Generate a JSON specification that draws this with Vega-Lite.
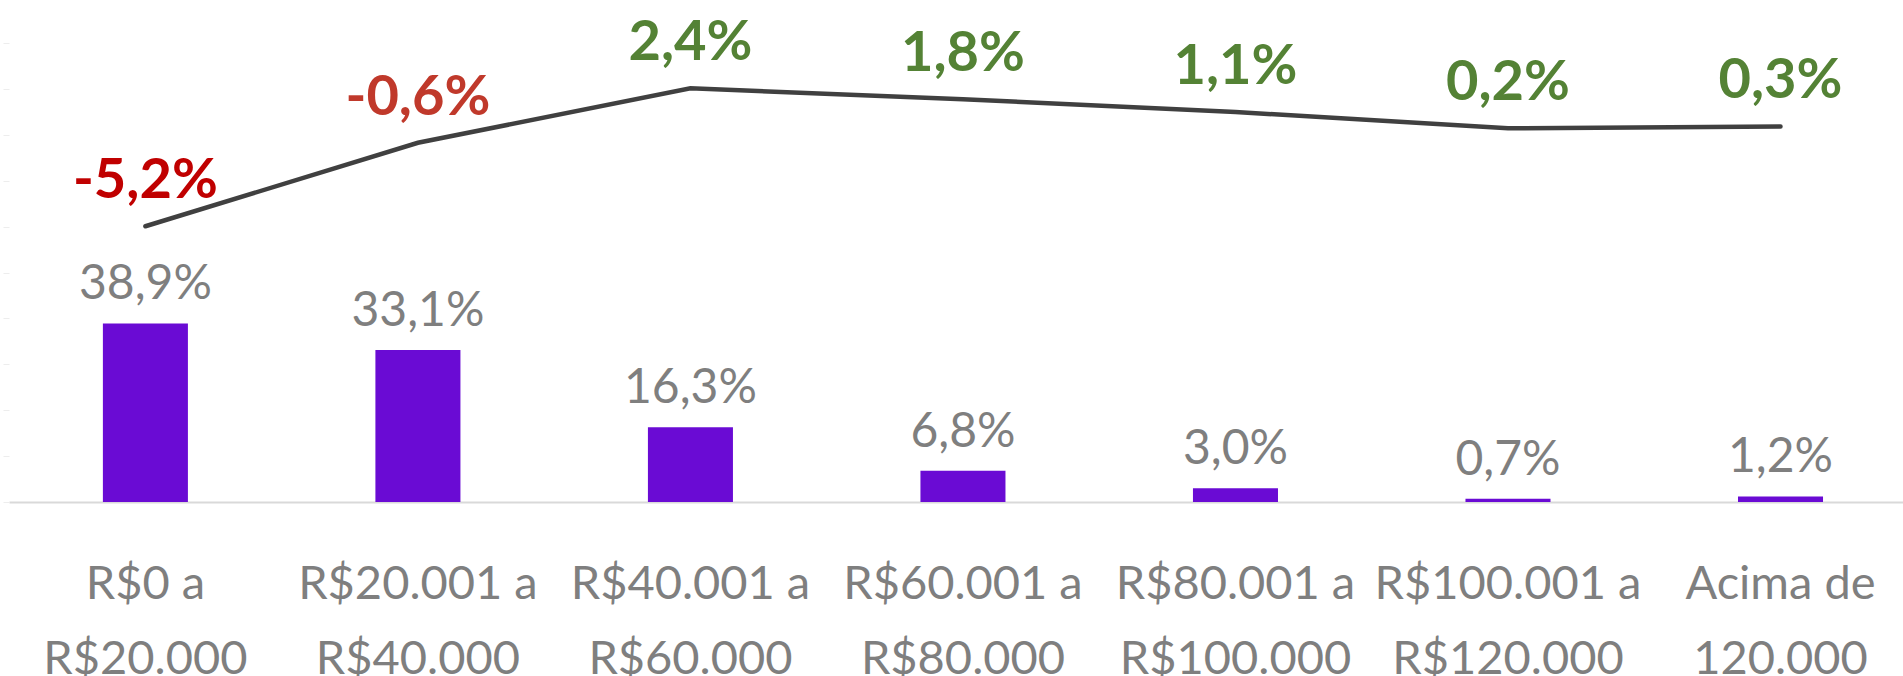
{
  "$schema": "https://vega.github.io/schema/vega-lite/v6.json",
  "width": 1894,
  "height": 459,
  "autosize": {"type": "none"},
  "padding": {"left": 9, "top": 43, "right": 0, "bottom": 174},
  "background": "white",
  "config": {
    "view": {"stroke": null},
    "locale": {"number": {"decimal": ",", "thousands": ".", "grouping": [3], "currency": ["R$", ""], "minus": "-"}}
  },
  "data": {
    "values": [
      {"faixa": "R$0 a R$20.000", "participacao": 0.389, "variacao": -0.052},
      {"faixa": "R$20.001 a R$40.000", "participacao": 0.331, "variacao": -0.006},
      {"faixa": "R$40.001 a R$60.000", "participacao": 0.163, "variacao": 0.024},
      {"faixa": "R$60.001 a R$80.000", "participacao": 0.068, "variacao": 0.018},
      {"faixa": "R$80.001 a R$100.000", "participacao": 0.030, "variacao": 0.011},
      {"faixa": "R$100.001 a R$120.000", "participacao": 0.007, "variacao": 0.002},
      {"faixa": "Acima de 120.000", "participacao": 0.012, "variacao": 0.003}
    ]
  },
  "encoding": {
    "x": {
      "field": "faixa",
      "type": "nominal",
      "sort": null,
      "scale": {"paddingInner": 0.688, "paddingOuter": 0.319, "align": 0.54, "round": false},
      "axis": {
        "title": null,
        "labelAngle": 0,
        "labelExpr": "split(replace(replace(datum.value, ' a R', ' a|R'), 'de 1', 'de|1'), '|')",
        "labelFont": "Lato",
        "labelFontSize": 47,
        "labelColor": "#7f7f7f",
        "labelLineHeight": 75,
        "labelBaseline": "alphabetic",
        "labelPadding": 96,
        "labelLimit": 500,
        "labelOverlap": false,
        "ticks": false,
        "domainColor": "#d9d9d9",
        "domainWidth": 2,
        "grid": false
      }
    }
  },
  "layer": [
    {
      "layer": [
        {
          "mark": {"type": "bar", "color": "#6A0BD4"},
          "encoding": {
            "y": {
              "field": "participacao",
              "type": "quantitative",
              "scale": {"domain": [0, 1], "nice": false},
              "axis": {
                "title": null,
                "labels": false,
                "domain": false,
                "grid": false,
                "ticks": true,
                "tickSize": 6,
                "tickColor": "#ededed",
                "values": [0, 0.1, 0.2, 0.3, 0.4, 0.5, 0.6, 0.7, 0.8, 0.9, 1]
              }
            }
          }
        },
        {
          "mark": {"type": "text", "baseline": "alphabetic", "dy": -24, "font": "Lato", "fontSize": 48, "color": "#7f7f7f"},
          "encoding": {
            "y": {"field": "participacao", "type": "quantitative"},
            "text": {"field": "participacao", "type": "quantitative", "format": ".1%"}
          }
        }
      ]
    },
    {
      "layer": [
        {
          "mark": {"type": "line", "color": "#404040", "strokeWidth": 4.5, "strokeCap": "round"},
          "encoding": {
            "y": {
              "field": "variacao",
              "type": "quantitative",
              "scale": {"domain": [-0.204, 0.049], "nice": false, "zero": false},
              "axis": null
            }
          }
        },
        {
          "mark": {"type": "text", "baseline": "alphabetic", "dy": -28, "font": "Lato", "fontSize": 56, "fontWeight": "bold"},
          "encoding": {
            "y": {"field": "variacao", "type": "quantitative"},
            "text": {"field": "variacao", "type": "quantitative", "format": ".1%"},
            "color": {
              "condition": [
                {"test": "datum.variacao < -0.01", "value": "#C00000"},
                {"test": "datum.variacao < 0", "value": "#C0392B"}
              ],
              "value": "#548235"
            }
          }
        }
      ]
    }
  ],
  "resolve": {"scale": {"y": "independent"}}
}
